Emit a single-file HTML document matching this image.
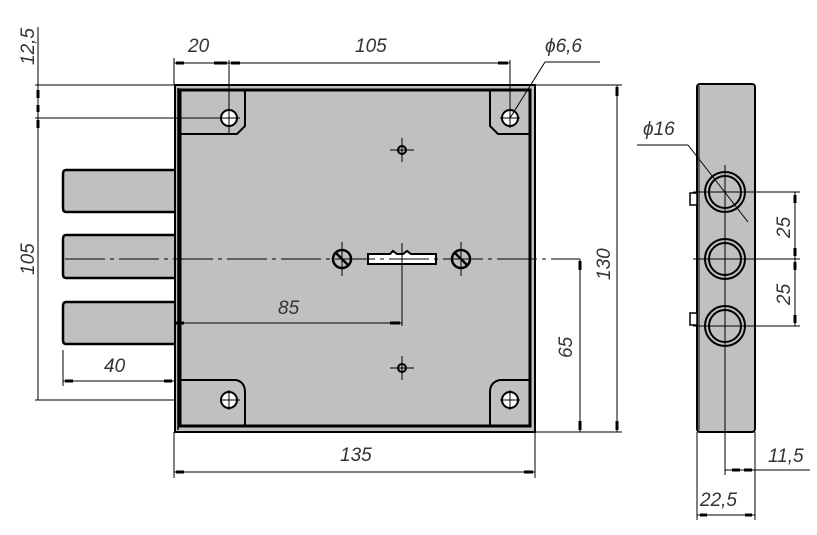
<!DOCTYPE html>
<html><head><meta charset="utf-8"><style>html,body{margin:0;padding:0;background:#fff}svg{display:block}
text{font-family:"Liberation Sans Narrow","Liberation Sans",sans-serif;font-style:italic;font-size:19px;fill:#333}
.g{fill:#c0c0c0}</style></head>
<body>
<svg width="817" height="535" viewBox="0 0 817 535" xmlns="http://www.w3.org/2000/svg" stroke="#000" fill="none">
<g class="g" stroke-width="2.5">
<path class="g" d="M174 170 H66 Q63 170 63 174 V208 Q63 212 66 212 H174"/>
<path class="g" d="M174 235 H66 Q63 235 63 239 V274 Q63 278 66 278 H174"/>
<path class="g" d="M174 302 H66 Q63 302 63 306 V340 Q63 344 66 344 H174"/>
</g>
<rect class="g" x="175" y="85" width="360" height="347" stroke-width="2"/>
<rect x="180" y="90" width="350" height="336" stroke-width="3"/>
<line x1="178" y1="88" x2="178" y2="430" stroke-width="1.5"/>
<g stroke-width="2">
<path d="M180 134 H237 L245 126 V90"/>
<path d="M530 134 H498 L490 126 V90"/>
<path d="M180 380 H236 Q245 382 245 392 V426"/>
<path d="M530 380 H500 Q490 382 490 392 V426"/>
</g>
<g fill="#fff" stroke-width="2">
<circle cx="229" cy="118" r="8"/><circle cx="510" cy="118" r="8"/>
<circle cx="229" cy="400" r="8"/><circle cx="510" cy="400" r="8"/>
</g>
<g stroke-width="2.5"><circle cx="342" cy="259" r="9"/><circle cx="461" cy="259" r="9"/>
<line x1="336" y1="253" x2="348" y2="265"/><line x1="455" y1="253" x2="467" y2="265"/></g>
<path d="M368 254 H390 L393 251 L397 254 H403 L407 251 L411 254 H436 V264 H368 Z" fill="#fff" stroke-width="2"/>
<circle cx="402" cy="150" r="4" stroke-width="2"/><circle cx="402" cy="368" r="4" stroke-width="2"/>
<g stroke-width="1">
<line x1="65" y1="259" x2="580" y2="259" stroke-dasharray="40 5 4 5"/>
<line x1="402" y1="138" x2="402" y2="162"/><line x1="390" y1="150" x2="414" y2="150"/>
<line x1="402" y1="356" x2="402" y2="380"/><line x1="390" y1="368" x2="414" y2="368"/>
<line x1="342" y1="242" x2="342" y2="276"/><line x1="461" y1="242" x2="461" y2="276"/>
<line x1="402" y1="243" x2="402" y2="326"/>
<line x1="229" y1="60" x2="229" y2="134"/><line x1="35" y1="118" x2="240" y2="118"/>
<line x1="35" y1="85" x2="175" y2="85"/><line x1="220" y1="400" x2="240" y2="400"/><line x1="229" y1="390" x2="229" y2="410"/>
<line x1="500" y1="400" x2="520" y2="400"/><line x1="510" y1="390" x2="510" y2="410"/>
<line x1="500" y1="118" x2="520" y2="118"/><line x1="510" y1="60" x2="510" y2="128"/>
<line x1="174" y1="58" x2="174" y2="85"/><line x1="174" y1="63" x2="510" y2="63"/>
<line x1="510" y1="118" x2="545" y2="62"/><line x1="545" y1="62" x2="600" y2="62"/>
<line x1="38" y1="27" x2="38" y2="400"/><line x1="35" y1="400" x2="175" y2="400"/>
<line x1="174" y1="323" x2="402" y2="323"/>
<line x1="63" y1="350" x2="63" y2="386"/><line x1="63" y1="381" x2="174" y2="381"/>
<line x1="174" y1="432" x2="174" y2="478"/><line x1="535" y1="432" x2="535" y2="478"/><line x1="174" y1="472" x2="535" y2="472"/>
<line x1="535" y1="85" x2="622" y2="85"/><line x1="535" y1="432" x2="622" y2="432"/>
<line x1="617" y1="85" x2="617" y2="432"/><line x1="580" y1="259" x2="580" y2="432"/>
</g>
<g stroke-width="3">
<line x1="176" y1="63" x2="184" y2="63"/><line x1="214" y1="63" x2="227" y2="63"/><line x1="231" y1="63" x2="240" y2="63"/><line x1="498" y1="63" x2="508" y2="63"/>
<line x1="38" y1="90" x2="38" y2="98"/><line x1="38" y1="105" x2="38" y2="112"/><line x1="38" y1="120" x2="38" y2="128"/>
<line x1="390" y1="323" x2="400" y2="323"/><line x1="176" y1="323" x2="184" y2="323"/>
<line x1="65" y1="381" x2="73" y2="381"/><line x1="164" y1="381" x2="172" y2="381"/>
<line x1="176" y1="472" x2="184" y2="472"/><line x1="524" y1="472" x2="533" y2="472"/>
<line x1="580" y1="261" x2="580" y2="270"/><line x1="580" y1="421" x2="580" y2="430"/>
<line x1="617" y1="87" x2="617" y2="96"/><line x1="617" y1="421" x2="617" y2="430"/>
</g>
<rect class="g" x="697" y="84" width="58" height="348" rx="3" stroke-width="2"/>
<line x1="699" y1="86" x2="699" y2="430" stroke-width="1"/>
<rect x="690" y="193" width="7" height="12" stroke-width="1.5" fill="#fff"/><rect x="690" y="313" width="7" height="12" stroke-width="1.5" fill="#fff"/>
<g stroke-width="2"><circle cx="725" cy="192" r="20"/><circle cx="725" cy="192" r="16"/>
<circle cx="725" cy="259" r="20"/><circle cx="725" cy="259" r="16"/>
<circle cx="725" cy="326" r="20"/><circle cx="725" cy="326" r="16"/></g>
<g stroke-width="1">
<line x1="725" y1="165" x2="725" y2="475"/><line x1="693" y1="192" x2="800" y2="192"/>
<line x1="693" y1="259" x2="800" y2="259"/><line x1="693" y1="326" x2="800" y2="326"/>
<line x1="795" y1="192" x2="795" y2="326"/>
<line x1="637" y1="145" x2="688" y2="145"/><line x1="688" y1="145" x2="748" y2="222"/>
<line x1="697" y1="432" x2="697" y2="520"/><line x1="755" y1="432" x2="755" y2="520"/>
<line x1="697" y1="515" x2="755" y2="515"/><line x1="725" y1="470" x2="810" y2="470"/>
</g>
<g stroke-width="3">
<line x1="795" y1="195" x2="795" y2="203"/><line x1="795" y1="248" x2="795" y2="256"/>
<line x1="795" y1="262" x2="795" y2="270"/><line x1="795" y1="315" x2="795" y2="323"/>
<line x1="732" y1="470" x2="740" y2="470"/><line x1="744" y1="470" x2="752" y2="470"/>
<line x1="700" y1="515" x2="707" y2="515"/><line x1="745" y1="515" x2="752" y2="515"/>
</g>
<g stroke="none">
<text x="188" y="52">20</text><text x="355" y="52">105</text><text x="545" y="52">ϕ6,6</text>
<text x="278" y="314">85</text><text x="104" y="372">40</text><text x="340" y="461">135</text>
<text transform="translate(34,65) rotate(-90)">12,5</text>
<text transform="translate(34,275) rotate(-90)">105</text>
<text transform="translate(572,358) rotate(-90)">65</text>
<text transform="translate(610,280) rotate(-90)">130</text>
<text x="643" y="135">ϕ16</text>
<text transform="translate(790,238) rotate(-90)">25</text>
<text transform="translate(790,305) rotate(-90)">25</text>
<text x="768" y="462">11,5</text><text x="700" y="506">22,5</text>
</g>
</svg>
</body></html>
